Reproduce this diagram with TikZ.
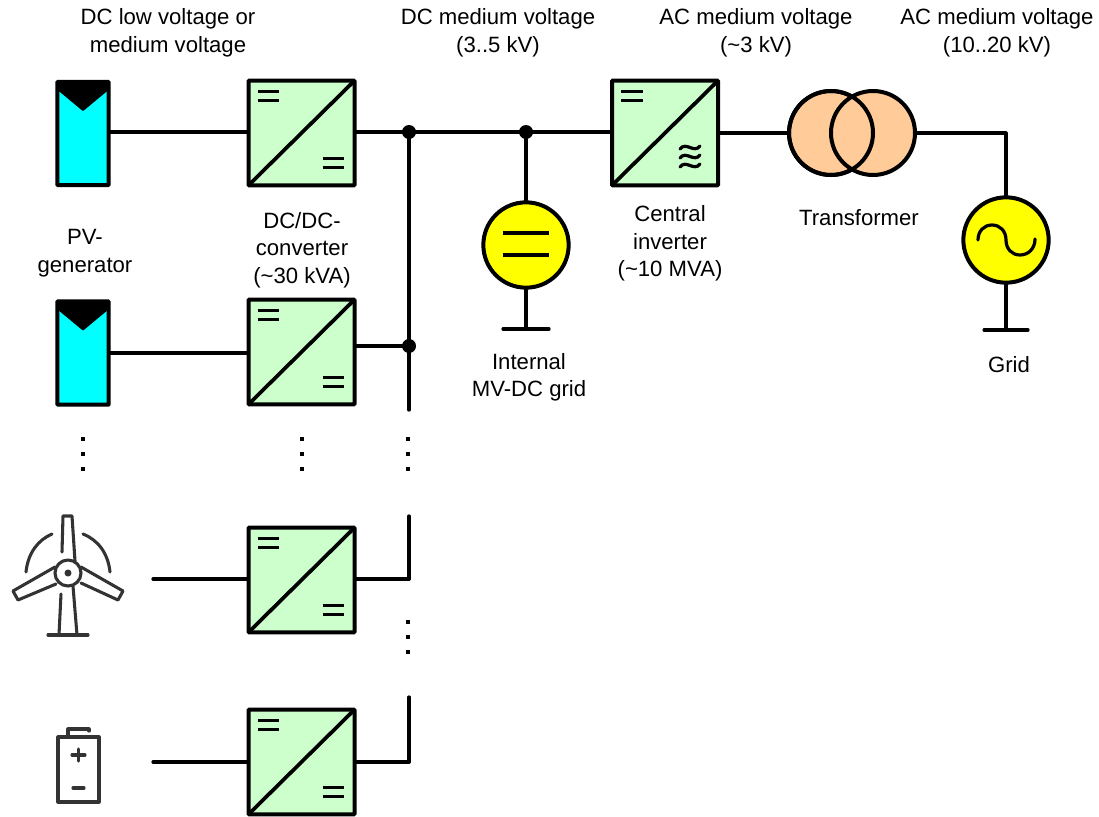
\documentclass[tikz,border=0pt]{standalone}
\usepackage{fontspec}
\setmainfont{Liberation Sans}
\definecolor{convgreen}{HTML}{CCFFCC}
\definecolor{trafoorange}{HTML}{FFCC99}
\definecolor{pvcyan}{HTML}{00FFFF}
\definecolor{srcyellow}{HTML}{FFFF00}
\newcommand{\convdiag}{%
    \draw[line width=2.8pt] (path picture bounding box.south west) -- (path picture bounding box.north east);
    \draw[line width=2.4pt] ([xshift=7pt,yshift=-8.3pt]path picture bounding box.north west) -- +(16pt,0);
    \draw[line width=2.4pt] ([xshift=7pt,yshift=-15pt]path picture bounding box.north west) -- +(16pt,0);
}
\tikzset{
  x=0.75pt,y=-0.75pt,
  wire/.style={line width=2.4pt,line cap=round,line join=round},
  heavywire/.style={line width=3pt,line cap=round,line join=round},
  boxbase/.style={draw,line width=3pt,fill=convgreen,minimum width=79.5pt,minimum height=78.5pt,inner sep=0pt,rounded corners=0.6pt},
  dcdc/.style={boxbase,path picture={
    \convdiag
    \draw[line width=2.4pt] ([xshift=-24pt,yshift=20pt]path picture bounding box.south east) -- +(16pt,0);
    \draw[line width=2.4pt] ([xshift=-24pt,yshift=13.3pt]path picture bounding box.south east) -- +(16pt,0);
    }},
  dcac/.style={boxbase,path picture={\convdiag}},
  pv/.style={draw,line width=3pt,fill=pvcyan,minimum width=38.5pt,minimum height=77.5pt,inner sep=0pt,rounded corners=0.5pt,
    path picture={\fill[black] (path picture bounding box.north west) -- ++(0,-6pt) -- ([yshift=-22pt]path picture bounding box.north) -- ([yshift=-6pt]path picture bounding box.north east) -- (path picture bounding box.north east) -- cycle;}},
  source/.style={circle,draw,line width=3pt,fill=srcyellow,minimum size=64pt,inner sep=0pt},
  trafo/.style={circle,draw,line width=3pt,minimum size=63pt,inner sep=0pt},
  junction/.style={circle,fill=black,minimum size=10.5pt,inner sep=0pt},
  label/.style={align=center,font=\fontsize{16.6pt}{20.6pt}\selectfont,inner sep=0pt},
  vdot/.style={fill=black,minimum size=3.3pt,inner sep=0pt},
  icon/.style={line width=2.3pt,draw=black!80,line cap=round,line join=round},
}
\begin{document}
\begin{tikzpicture}
\useasboundingbox (0,0) rectangle (1099,817);
\fill[white] (0,0) rectangle (1099,817);

% coordinates
\coordinate (j1) at (409,132);
\coordinate (j2) at (526,132);
\coordinate (j3) at (409,346);
\coordinate (busend1) at (409,410);
\coordinate (busstart2) at (409,516);
\coordinate (busend2) at (409,579);
\coordinate (busstart3) at (409,697);
\coordinate (busend3) at (409,762);
\coordinate (w3) at (153,579);
\coordinate (w4) at (153,762);
\coordinate (gcorner) at (1006,133);
\coordinate (gndA) at (526,329);
\coordinate (gndB) at (1006,330);
\coordinate (gndAl) at (503,329);
\coordinate (gndAr) at (549,329);
\coordinate (gndBl) at (984,330);
\coordinate (gndBr) at (1028,330);

% wires
\draw[wire] (j1) -- (j3) -- (busend1);
\draw[wire] (busstart2) -- (busend2);
\draw[wire] (busstart3) -- (busend3);

% nodes
\node[pv] (pv1) at (83,133.5) {};
\node[pv] (pv2) at (83,353) {};
\node[dcdc] (c1) at (301.5,133) {};
\node[dcdc] (c2) at (301.5,352) {};
\node[dcdc] (c3) at (301.5,580) {};
\node[dcdc] (c4) at (301.5,762) {};
\node[dcac] (inv) at (665,133) {};
\draw[line width=2.4pt,line cap=round] (680,149) .. controls (686,141) and (694,154) .. (700,146);
\draw[line width=2.4pt,line cap=round] (680,158) .. controls (686,150) and (694,163) .. (700,155);
\draw[line width=2.4pt,line cap=round] (680,167) .. controls (686,159) and (694,172) .. (700,164);

\node[trafo,fill=trafoorange] (t1) at (831,133) {};
\node[trafo,fill=trafoorange] (t2) at (873,133) {};
\draw[line width=3pt] (831,133) circle (42);

\node[source] (dcgrid) at (526,245) {};
\draw[line width=2.4pt] (503,233) -- (549,233);
\draw[line width=2.4pt] (503,255) -- (549,255);
\node[source] (grid) at (1006,240) {};
\draw[line width=2.4pt,line cap=round] (978,240) .. controls (978,231) and (984,225) .. (992,225) .. controls (1000,225) and (1006,231) .. (1006,240) .. controls (1006,249) and (1012,255) .. (1020,255) .. controls (1028,255) and (1035,249) .. (1035,239);

% connectors
\draw[wire] (pv1.east |- j1) -- (c1.west |- j1);
\draw[wire] (c1.east |- j1) -- (j1) -- (j2) -- (inv.west |- j2);
\draw[wire] (pv2.east) -- (c2.west |- pv2.east);
\draw[wire] (c2.east |- j3) -- (j3);
\draw[wire] (w3) -- (c3.west |- w3);
\draw[wire] (c3.east |- busend2) -- (busend2);
\draw[wire] (w4) -- (c4.west |- w4);
\draw[wire] (c4.east |- busend3) -- (busend3);
\draw[heavywire] (inv.east) -- (t1.west);
\draw[wire] (t2.east) -- (gcorner) -- (grid.north);
\draw[wire] (j2) -- (dcgrid.north);
\draw[wire] (dcgrid.south) -- (gndA);
\draw[wire] (gndAl) -- (gndAr);
\draw[wire] (grid.south) -- (gndB);
\draw[wire] (gndBl) -- (gndBr);

\node[junction] (dj1) at (j1) {};
\node[junction] (dj2) at (j2) {};
\node[junction] (dj3) at (j3) {};

% ellipsis dots
\foreach \n/\x/\y in {a/83/439,b/83/454,c/83/469,d/302/439,e/302/454,f/302/469,g/408/439,h/408/454,i/408/469,k/408/622,l/408/637,m/408/652}
  \node[vdot] (dot\n) at (\x,\y) {};

% wind turbine
\draw[icon] (68,573) circle (13);
\fill[black!80] (68,573) circle (3.5);
\draw[icon] (62,552) -- (63,516) -- (72,516) -- (75,561);
\draw[icon] (55,567) -- (13,591) -- (18,600) -- (56,584);
\draw[icon] (81,567) -- (123,591) -- (118,600) -- (81,583);
\draw[icon] (61,594) -- (59,635);
\draw[icon] (73,586) -- (77,635);
\draw[icon] (48,635) -- (88,635);
\draw[icon] (26,572) .. controls (28,553) and (38,540) .. (52,534);
\draw[icon] (110,572) .. controls (108,553) and (98,540) .. (83,534);

% battery
\draw[icon] (58,737) rectangle (99,802);
\draw[icon] (68,737) -- (68,729) -- (89,729) -- (89,731);
\draw[icon] (72,755) -- (85,755);
\draw[icon] (78.5,749) -- (78.5,761);
\draw[icon] (73,788) -- (84,788);

% labels
\node[label] (l1) at (168,33) {DC low voltage or\\medium voltage};
\node[label] (l2) at (498,33) {DC medium voltage\\(3..5 kV)};
\node[label] (l3) at (756,33) {AC medium voltage\\(\textasciitilde 3 kV)};
\node[label] (l4) at (997,33) {AC medium voltage\\(10..20 kV)};
\node[label] (l5) at (85,253) {PV-\\generator};
\node[label] (l6) at (302,250) {DC/DC-\\converter\\(\textasciitilde 30 kVA)};
\node[label] (l7) at (670,243.5) {Central\\inverter\\(\textasciitilde 10 MVA)};
\node[label] (l8) at (859,217.5) {Transformer};
\node[label] (l9) at (529,377.5) {Internal\\MV-DC grid};
\node[label] (l10) at (1009,364.5) {Grid};
\end{tikzpicture}
\end{document}
